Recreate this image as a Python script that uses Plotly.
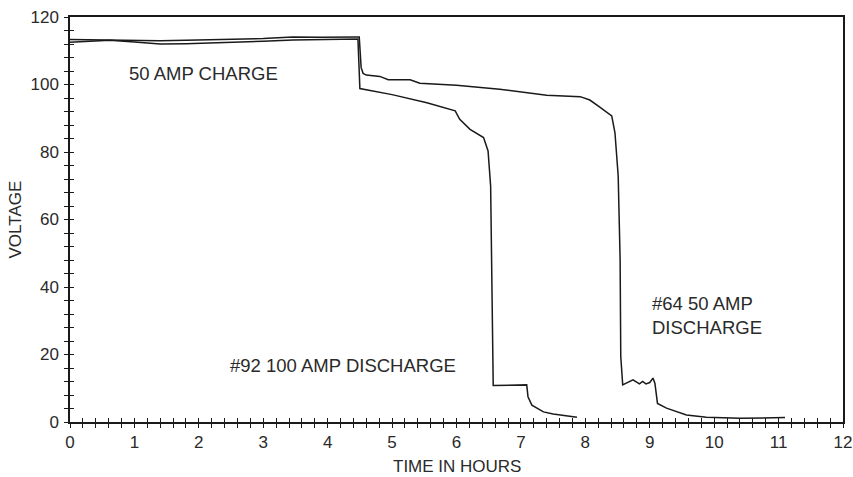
import plotly.graph_objects as go

# ---- data ----
hours_92 = [0, 0.3, 0.62, 1.0, 1.4, 1.8, 2.2, 2.6, 3.0, 3.46, 3.9, 4.45, 4.47, 4.5, 5.0,
            5.54, 5.98, 6.05, 6.21, 6.42, 6.49, 6.53, 6.56, 6.57, 7.09, 7.11, 7.17, 7.35, 7.5, 7.87]
volts_92 = [112.5, 112.8, 113.1, 112.6, 112.0, 112.1, 112.3, 112.4, 112.8, 113.2, 113.4, 113.5, 113.5,
            98.8, 97.0, 94.6, 92.2, 89.7, 86.7, 84.3, 80.3, 69.9, 11.0, 10.8, 11.0, 7.5, 5.0, 3.0, 2.4, 1.4]

hours_64 = [0, 0.3, 0.62, 1.0, 1.4, 1.8, 2.2, 2.6, 3.0, 3.46, 3.9, 4.45, 4.49, 4.52, 4.55, 4.6,
            4.81, 4.94, 5.28, 5.43, 6.0, 6.67, 7.4, 7.92, 8.07, 8.23, 8.41, 8.46, 8.51, 8.54, 8.55,
            8.58, 8.74, 8.84, 8.89, 8.94, 9.0, 9.05, 9.08, 9.12, 9.26, 9.57, 9.88, 10.4, 11.1]
volts_64 = [113.3, 113.2, 113.1, 113.0, 113.0, 113.1, 113.3, 113.4, 113.6, 114.1, 114.0, 114.1,
            114.1, 105.0, 103.3, 102.8, 102.4, 101.4, 101.4, 100.4, 99.8, 98.6, 96.8, 96.4, 95.4,
            93.2, 90.7, 85.7, 72.9, 48.1, 19.4, 11.0, 12.5, 11.3, 12.0, 11.3, 11.7, 13.0, 11.5,
            5.5, 4.1, 2.1, 1.4, 1.1, 1.3]

x_ticks = list(range(0, 13))
y_ticks = [0, 20, 40, 60, 80, 100, 120]

FONT = "Arial, 'Liberation Sans', Helvetica, sans-serif"
INK = "#1a1a1a"
TXT = "#2a2a2a"

fig = go.Figure()
line_style = dict(color=INK, width=1.5)
fig.add_trace(go.Scatter(x=hours_92, y=volts_92, mode="lines", line=line_style,
                         name="#92 100 AMP DISCHARGE", showlegend=False))
fig.add_trace(go.Scatter(x=hours_64, y=volts_64, mode="lines", line=line_style,
                         name="#64 50 AMP DISCHARGE", showlegend=False))
# helper trace for overlay axes (inside ticks)
fig.add_trace(go.Scatter(x=[None], y=[None], xaxis="x2", yaxis="y2",
                         showlegend=False, hoverinfo="skip"))

common_x = dict(range=[0, 12], showgrid=False, zeroline=False, tickvals=x_ticks,
                ticklen=4, tickwidth=1.3, tickcolor=INK, automargin=False)
common_y = dict(range=[0, 120], showgrid=False, zeroline=False, tickvals=y_ticks,
                ticklen=4, tickwidth=1.3, tickcolor=INK, automargin=False)

fig.update_layout(
    width=853, height=477,
    margin=dict(l=70, r=10, t=17, b=55),
    paper_bgcolor="white", plot_bgcolor="white",
    font=dict(family=FONT, size=17, color=TXT),
    xaxis=dict(**common_x, ticks="outside", showline=True, linecolor=INK, linewidth=1.5,
               mirror=True, tickfont=dict(size=17, color=TXT),
               minor=dict(dtick=0.2, ticks="outside", ticklen=4, tickwidth=1.2, tickcolor=INK,
                          showgrid=False)),
    yaxis=dict(**common_y, ticks="outside", showline=True, linecolor=INK, linewidth=1.5,
               mirror=True, tickfont=dict(size=17, color=TXT), ticklabelstandoff=2,
               minor=dict(dtick=4, ticks="outside", ticklen=4, tickwidth=1.2, tickcolor=INK,
                          showgrid=False)),
    xaxis2=dict(**common_x, overlaying="x", anchor="y2", side="bottom", ticks="inside",
                showticklabels=False, showline=False,
                minor=dict(dtick=0.2, ticks="inside", ticklen=4, tickwidth=1.2, tickcolor=INK,
                           showgrid=False)),
    yaxis2=dict(**common_y, overlaying="y", anchor="x2", side="left", ticks="inside",
                showticklabels=False, showline=False,
                minor=dict(dtick=4, ticks="inside", ticklen=4, tickwidth=1.2, tickcolor=INK,
                           showgrid=False)),
)

ann_font = dict(family=FONT, size=18.5, color=TXT)
title_font = dict(family=FONT, size=17, color=TXT)
fig.add_annotation(x=0.885, y=103.4, xref="x", yref="y", text="50 AMP CHARGE",
                   showarrow=False, xanchor="left", yanchor="middle", font=ann_font)
fig.add_annotation(x=2.45, y=16.6, xref="x", yref="y", text="#92 100 AMP DISCHARGE",
                   showarrow=False, xanchor="left", yanchor="middle", font=ann_font)
fig.add_annotation(x=9.0, y=31.5, xref="x", yref="y", text="#64 50 AMP<br>DISCHARGE",
                   showarrow=False, xanchor="left", yanchor="middle", align="left", font=ann_font)
fig.add_annotation(x=0.5, y=-0.111, xref="paper", yref="paper", text="TIME IN HOURS",
                   showarrow=False, xanchor="center", yanchor="middle", font=title_font)
fig.add_annotation(x=-0.0699, y=0.5, xref="paper", yref="paper", text="VOLTAGE",
                   showarrow=False, xanchor="center", yanchor="middle", textangle=-90,
                   font=title_font)

fig.write_html("out.html", config={"displayModeBar": False},
               post_script="document.body.style.margin='0px';")
